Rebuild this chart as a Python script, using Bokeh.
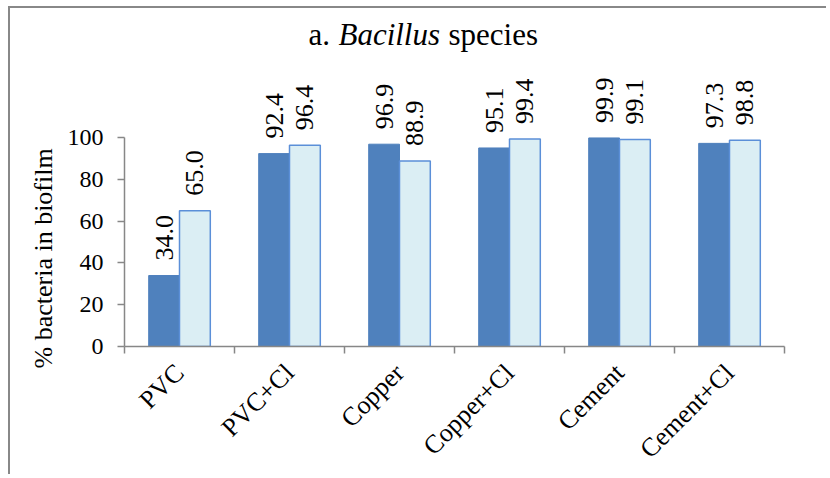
from math import pi
from bokeh.plotting import figure
from bokeh.models import (ColumnDataSource, Range1d, LinearAxis, FixedTicker,
                          Label, LabelSet, Title)
from bokeh.transform import dodge
from bokeh.embed import file_html
from bokeh.resources import INLINE

categories = ["PVC", "PVC+Cl", "Copper", "Copper+Cl", "Cement", "Cement+Cl"]
series_a = [34.0, 92.4, 96.9, 95.1, 99.9, 97.3]
series_b = [65.0, 96.4, 88.9, 99.4, 99.1, 98.8]
y_ticks = [0, 20, 40, 60, 80, 100]
title_parts = ["a.", "Bacillus", "species"]
y_title = "% bacteria in biofilm"

FONT = "Liberation Serif"
AXIS_COLOR = "#878787"
n = len(categories)
centers = [i + 0.5 for i in range(n)]

src = ColumnDataSource(dict(
    xc=centers,
    a=series_a,
    b=series_b,
    a_lbl=["%.1f" % v for v in series_a],
    b_lbl=["%.1f" % v for v in series_b],
))

p = figure(width=818, height=468, title=None,
           x_range=Range1d(0, n),
           y_range=Range1d(0, 161.9),
           x_axis_location=None, y_axis_location=None,
           output_backend="svg", toolbar_location=None,
           min_border_left=114, min_border_right=44,
           min_border_top=0, min_border_bottom=128)
p.outline_line_color = None
p.xgrid.visible = False
p.ygrid.visible = False
p.background_fill_color = "white"
p.border_fill_color = "white"
p.styles = {"margin-left": "8px", "margin-top": "6px",
            "border-left": "2px solid #888888", "border-top": "2px solid #888888"}

# y axis
yax = LinearAxis(ticker=FixedTicker(ticks=y_ticks), bounds=(0, 100))
yax.axis_line_color = AXIS_COLOR
yax.axis_line_width = 1.5
yax.major_tick_line_color = AXIS_COLOR
yax.major_tick_line_width = 1.5
yax.major_tick_out = 7
yax.major_tick_in = 0
yax.minor_tick_line_color = None
yax.major_label_text_font = FONT
yax.major_label_text_font_size = "24px"
yax.major_label_text_color = "black"
yax.major_label_standoff = 14
p.add_layout(yax, "left")

# y-axis title
p.add_layout(Title(text=y_title, align="left", offset=-22, text_font=FONT,
                   text_font_size="26px", text_font_style="normal",
                   text_color="black", standoff=14), "left")

# x axis: category labels at centres, boundary ticks as minor ticks
xc = LinearAxis(ticker=FixedTicker(ticks=centers, minor_ticks=list(range(n + 1))),
                major_label_overrides={c: name for c, name in zip(centers, categories)})
xc.axis_line_color = AXIS_COLOR
xc.axis_line_width = 1.5
xc.major_tick_line_color = None
xc.major_tick_out = 7
xc.major_tick_in = 0
xc.minor_tick_line_color = AXIS_COLOR
xc.minor_tick_line_width = 1.5
xc.minor_tick_out = 7
xc.minor_tick_in = 0
xc.major_label_orientation = pi / 4
xc.major_label_text_font = FONT
xc.major_label_text_font_size = "26px"
xc.major_label_text_color = "black"
xc.major_label_standoff = 15
p.add_layout(xc, "below")

# bars
p.vbar(x=dodge("xc", -0.14), top="a", width=0.28, source=src,
       fill_color="#4f81bd", line_color="#4f81bd", line_width=1)
p.vbar(x=dodge("xc", 0.14), top="b", width=0.28, source=src,
       fill_color="#dbeef4", line_color="#5b8fd8", line_width=1.5)

# data labels
for col, off in (("a", -0.14), ("b", 0.14)):
    p.add_layout(LabelSet(x=dodge("xc", off), y=col, text=col + "_lbl", source=src,
                          angle=pi / 2, text_align="left", text_baseline="middle",
                          y_offset=15, text_font=FONT, text_font_size="26px",
                          text_color="black"))

# title (mixed style)
ty = 149.5
for tx, txt, style in ((1.673, title_parts[0], "normal"),
                       (1.945, title_parts[1], "italic"),
                       (2.945, title_parts[2], "normal")):
    p.add_layout(Label(x=tx, y=ty, text=txt, text_align="left",
                       text_baseline="alphabetic", text_font=FONT,
                       text_font_size="31px", text_font_style=style,
                       text_color="black"))

open("out.html", "w").write(file_html(p, INLINE))
